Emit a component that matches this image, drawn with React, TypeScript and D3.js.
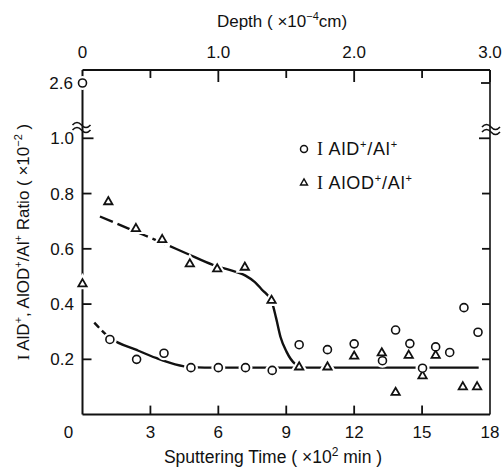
import React from "react";
import * as d3 from "d3";

// ---- data ----
const timeTicks = [0, 3, 6, 9, 12, 15, 18];
const depthMajor = [0, 1.0, 2.0, 3.0];
const depthMinor = [0.5, 1.5, 2.5];
const ratioTicks = [0.2, 0.4, 0.6, 0.8, 1.0];
const upperTicks = [2.6];

// I AlD+/Al+ (circles)
const aldTime = [0, 1.21, 2.39, 3.6, 4.79, 6.0, 7.2, 8.38, 9.57, 10.82, 12.0, 13.25, 13.83, 14.46, 15.02, 15.6, 16.22, 16.85, 17.47];
const aldRatio = [2.6, 0.272, 0.2, 0.222, 0.17, 0.17, 0.17, 0.16, 0.253, 0.235, 0.256, 0.195, 0.306, 0.257, 0.168, 0.245, 0.225, 0.387, 0.298];

// I AlOD+/Al+ (triangles)
const alodTime = [0, 1.14, 2.36, 3.52, 4.74, 5.95, 7.17, 8.35, 9.57, 10.82, 12.0, 13.22, 13.83, 14.41, 15.02, 15.6, 16.8, 17.43];
const alodRatio = [0.473, 0.77, 0.673, 0.633, 0.545, 0.527, 0.533, 0.413, 0.172, 0.172, 0.211, 0.223, 0.08, 0.214, 0.14, 0.214, 0.1, 0.1];

// hand-drawn fit curves
const aldFitTime = [0.52, 1.21, 2.39, 3.28, 4.09, 4.79, 6.0, 17.5];
const aldFitRatio = [0.333, 0.278, 0.234, 0.204, 0.182, 0.172, 0.17, 0.17];
const alodFitTime = [0.77, 2.36, 3.52, 4.6, 5.76, 6.3, 6.8, 7.2, 7.6, 7.95, 8.35, 8.55, 8.75, 9.01, 9.4, 9.82];
const alodFitRatio = [0.717, 0.662, 0.622, 0.583, 0.542, 0.528, 0.516, 0.503, 0.48, 0.45, 0.411, 0.35, 0.28, 0.228, 0.183, 0.17];

const W = 502;
const H = 469;
const FONT = "'Liberation Sans', Arial, sans-serif";
const INK = "#111";

const x = d3.scaleLinear().domain([0, 18]).range([82.5, 490]);
const xDepth = d3.scaleLinear().domain([0, 3]).range([82.5, 490]);
const yLow = d3.scaleLinear().domain([0, 1]).range([414.6, 138.3]);
const yUp = d3.scaleLinear().domain([2.6, 2.7]).range([83, 70]);
const y = (v: number) => (v > 1.5 ? yUp(v) : yLow(v));

const X0 = x(0);
const X1 = x(18);
const YB = yLow(0);
const YT = yUp(2.7);

const line = d3
  .line<[number, number]>()
  .x((d) => x(d[0]))
  .y((d) => y(d[1]))
  .curve(d3.curveMonotoneX);

const triPath = d3.symbol(d3.symbolTriangle).size(30)() as string;

type Part = { t: string; sup?: boolean; serif?: boolean };
const SERIF = "'Liberation Serif', serif";

function Rich({ parts, supSize = 11, shift = 7 }: { parts: Part[]; supSize?: number; shift?: number }) {
  let prevSup = false;
  return (
    <>
      {parts.map((p, i) => {
        let dy = 0;
        if (p.sup && !prevSup) dy = -shift;
        if (!p.sup && prevSup) dy = shift;
        prevSup = !!p.sup;
        return (
          <tspan
            key={i}
            dy={dy || undefined}
            fontSize={p.sup ? supSize : undefined}
            fontFamily={p.serif ? SERIF : undefined}
          >
            {p.t}
          </tspan>
        );
      })}
    </>
  );
}

function breakMark(cx: number, cy: number) {
  const w = (yy: number) => `M${cx - 9},${yy} q4.5,-5 9,0 t9,0`;
  return (
    <g fill="none" stroke={INK} strokeWidth={1.6}>
      <path d={w(cy)} />
      <path d={w(cy + 5)} />
    </g>
  );
}

export default function App() {
  const aldFit = aldFitTime.map((t, i) => [t, aldFitRatio[i]] as [number, number]);
  const alodFit = alodFitTime.map((t, i) => [t, alodFitRatio[i]] as [number, number]);
  return (
    <svg
      width={W}
      height={H}
      viewBox={`0 0 ${W} ${H}`}
      style={{ position: "fixed", left: 0, top: 0, background: "#fff" }}
      fontFamily={FONT}
    >
      <rect width={W} height={H} fill="#fff" />

      {/* frame */}
      <g stroke={INK} strokeWidth={2} fill="none">
        <line x1={X0} y1={YT} x2={X1} y2={YT} />
        <line x1={X0} y1={YB} x2={X1} y2={YB} />
        <line x1={X0} y1={YT} x2={X0} y2={YB} />
        <line x1={X1} y1={YT} x2={X1} y2={YB} strokeWidth={1.6} />
      </g>

      {/* break marks */}
      {breakMark(X0 - 1, 125)}
      {breakMark(X1 + 1, 127)}

      {/* ticks */}
      <g stroke={INK} strokeWidth={1.8}>
        {depthMajor.slice(1).map((d) => (
          <line key={"dm" + d} x1={xDepth(d)} x2={xDepth(d)} y1={YT} y2={YT + 12} />
        ))}
        {depthMinor.map((d) => (
          <line key={"dn" + d} x1={xDepth(d)} x2={xDepth(d)} y1={YT} y2={YT + 8} />
        ))}
        {timeTicks.slice(1, -1).map((t) => (
          <line key={"bt" + t} x1={x(t)} x2={x(t)} y1={YB} y2={YB - 9} />
        ))}
        {ratioTicks.map((v) => (
          <line key={"lt" + v} x1={X0} x2={X0 + (v === 1 ? 11 : 9)} y1={yLow(v)} y2={yLow(v)} />
        ))}
        {ratioTicks.map((v) => (
          <line key={"rt" + v} x1={X1} x2={X1 - (v === 1 ? 11 : 8)} y1={yLow(v)} y2={yLow(v)} />
        ))}
        {upperTicks.map((v) => (
          <line key={"ru" + v} x1={X1} x2={X1 - 9} y1={yUp(v)} y2={yUp(v)} />
        ))}
      </g>

      {/* tick labels */}
      <g fill={INK} fontSize={17}>
        {depthMajor.map((d) => (
          <text key={"dl" + d} x={xDepth(d)} y={58} textAnchor="middle">
            {d === 0 ? "0" : d.toFixed(1)}
          </text>
        ))}
        {timeTicks.map((t) => (
          <text key={"tl" + t} x={t === 0 ? x(t) - 14 : x(t)} y={438} textAnchor="middle">
            {t}
          </text>
        ))}
        {ratioTicks.map((v) => (
          <text key={"rl" + v} x={74} y={yLow(v) + 6} textAnchor="end">
            {v.toFixed(1)}
          </text>
        ))}
        {upperTicks.map((v) => (
          <text key={"ul" + v} x={73} y={yUp(v) + 6} textAnchor="end">
            {v.toFixed(1)}
          </text>
        ))}
      </g>

      {/* axis titles */}
      <text x={282} y={27} textAnchor="middle" fontSize={17} fill={INK}>
        <Rich parts={[{ t: "Depth ( ×10" }, { t: "−4", sup: true }, { t: "cm)" }]} />
      </text>
      <text x={273} y={463} textAnchor="middle" fontSize={17.5} fill={INK}>
        <Rich parts={[{ t: "Sputtering  Time ( ×10" }, { t: "2", sup: true }, { t: " min )" }]} supSize={12} />
      </text>
      <text transform={`translate(29,242) rotate(-90)`} textAnchor="middle" fontSize={17} fill={INK}>
        <Rich
          parts={[
            { t: "I", serif: true },
            { t: " AlD" },
            { t: "+", sup: true },
            { t: ", AlOD" },
            { t: "+", sup: true },
            { t: "/Al" },
            { t: "+", sup: true },
            { t: " Ratio  ( ×10" },
            { t: "−2", sup: true },
            { t: " )" },
          ]}
        />
      </text>

      {/* fit curves */}
      <path d={line(aldFit) as string} fill="none" stroke={INK} strokeWidth={2.4} strokeDasharray="7 4 6 4 2000" />
      <path
        d={line(alodFit) as string}
        fill="none"
        stroke={INK}
        strokeWidth={2.4}
        strokeDasharray="14 5 14 5 14 5 14 5 2000"
      />

      {/* markers */}
      <g>
        {alodTime.map((t, i) => (
          <path
            key={"tr" + i}
            d={triPath}
            transform={`translate(${x(t)},${y(alodRatio[i])})`}
            fill="#fff"
            stroke="#fff"
            strokeWidth={6}
          />
        ))}
        {aldTime.map((t, i) => (
          <circle key={"ch" + i} cx={x(t)} cy={y(aldRatio[i])} r={4} fill="#fff" stroke="#fff" strokeWidth={6} />
        ))}
        {alodTime.map((t, i) => (
          <path
            key={"t" + i}
            d={triPath}
            transform={`translate(${x(t)},${y(alodRatio[i])})`}
            fill="#fff"
            stroke={INK}
            strokeWidth={1.8}
          />
        ))}
        {aldTime.map((t, i) => (
          <circle key={"c" + i} cx={x(t)} cy={y(aldRatio[i])} r={4} fill="#fff" stroke={INK} strokeWidth={1.6} />
        ))}
      </g>

      {/* legend */}
      <g fill={INK} fontSize={18} letterSpacing={0.8}>
        <circle cx={304} cy={149} r={3.5} fill="#fff" stroke={INK} strokeWidth={1.5} />
        <text x={317} y={155}>
          <Rich parts={[{ t: "I", serif: true }, { t: " AlD" }, { t: "+", sup: true }, { t: "/Al" }, { t: "+", sup: true }]} />
        </text>
        <path d={triPath} transform="translate(304,183) scale(0.85)" fill="#fff" stroke={INK} strokeWidth={1.6} />
        <text x={317} y={189}>
          <Rich parts={[{ t: "I", serif: true }, { t: " AlOD" }, { t: "+", sup: true }, { t: "/Al" }, { t: "+", sup: true }]} />
        </text>
      </g>
    </svg>
  );
}
